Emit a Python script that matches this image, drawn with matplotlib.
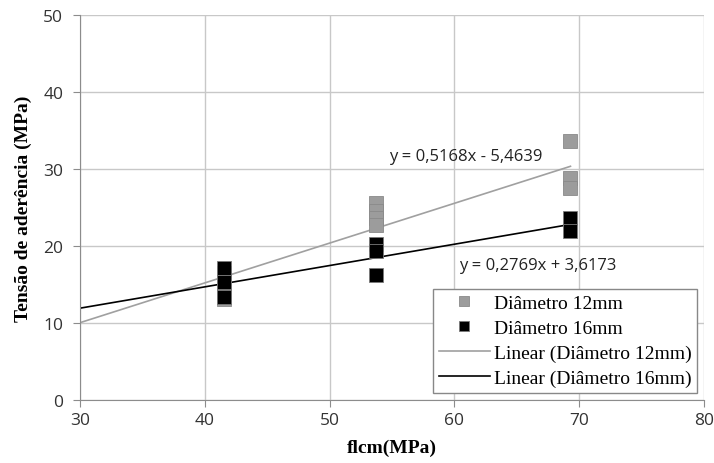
import matplotlib
matplotlib.use("Agg")
import matplotlib.pyplot as plt
import numpy as np

# Data
x12 = [41.5, 41.5, 41.5, 53.7, 53.7, 53.7, 53.7, 69.3, 69.3, 69.3]
y12 = [13.1, 15.0, 16.5, 25.6, 24.6, 23.6, 22.7, 33.6, 28.8, 27.5]
x16 = [41.5, 41.5, 41.5, 53.7, 53.7, 53.7, 69.3, 69.3]
y16 = [17.1, 15.3, 13.4, 20.3, 19.3, 16.2, 23.6, 21.9]
fit12 = (0.5168, -5.4639)
fit16 = (0.2769, 3.6173)
fit_range = (30, 69.3)
eq12 = "y = 0,5168x - 5,4639"
eq16 = "y = 0,2769x + 3,6173"
xticks = [30, 40, 50, 60, 70, 80]
yticks = [0, 10, 20, 30, 40, 50]

fig = plt.figure(figsize=(7.14, 4.64), dpi=100)
ax = fig.add_axes([80/714, 1-401/464, 624/714, 385/464])

serif = "Liberation Serif"
sans = "Open Sans"

ax.plot(x12, y12, linestyle="none", marker="s", markersize=9.5,
        color="#9c9c9c", markeredgecolor="#8a8a8a", markeredgewidth=0.6,
        label="Diâmetro 12mm", zorder=3)
ax.plot(x16, y16, linestyle="none", marker="s", markersize=9.5,
        color="#000000", markeredgecolor="#7a7a7a", markeredgewidth=0.6,
        label="Diâmetro 16mm", zorder=4)

xf = np.array(fit_range)
ax.plot(xf, fit12[0]*xf + fit12[1], color="#a0a0a0", lw=1.2,
        label="Linear (Diâmetro 12mm)", zorder=2)
ax.plot(xf, fit16[0]*xf + fit16[1], color="#000000", lw=1.2,
        label="Linear (Diâmetro 16mm)", zorder=2)

ax.text(54.8, 31.7, eq12, fontsize=12, family=sans, va="center", ha="left",
        color="#222222")
ax.text(60.4, 17.5, eq16, fontsize=12, family=sans, va="center", ha="left",
        color="#222222")

ax.set_xlim(30, 80)
ax.set_ylim(0, 50)
ax.set_xticks(xticks)
ax.set_yticks(yticks)
ax.grid(True, color="#c8c8c8", lw=1.0)
ax.set_axisbelow(True)
for s in ["top", "right"]:
    ax.spines[s].set_visible(False)
for s in ["left", "bottom"]:
    ax.spines[s].set_color("#8c8c8c")
ax.tick_params(direction="out", length=5, color="#8c8c8c", labelsize=12.5,
               labelcolor="#333333")
ax.tick_params(axis="y", pad=7)
ax.tick_params(axis="x", pad=4)
for lab in ax.get_xticklabels() + ax.get_yticklabels():
    lab.set_family(sans)

ax.set_xlabel("flcm(MPa)", family=serif, fontweight="bold", fontsize=14, labelpad=7)
ax.set_ylabel("Tensão de aderência (MPa)", family=serif, fontweight="bold",
              fontsize=14, labelpad=8)

leg = ax.legend(loc="lower right", bbox_to_anchor=(0.989, 0.018),
                prop={"family": serif, "size": 14}, frameon=True, fancybox=False,
                edgecolor="#888888", framealpha=1, borderpad=0.3,
                handlelength=2.6, labelspacing=0.38, handletextpad=0.2,
                borderaxespad=0, markerscale=0.75)
leg.get_frame().set_linewidth(1.0)

fig.savefig("out.png", dpi=100)
